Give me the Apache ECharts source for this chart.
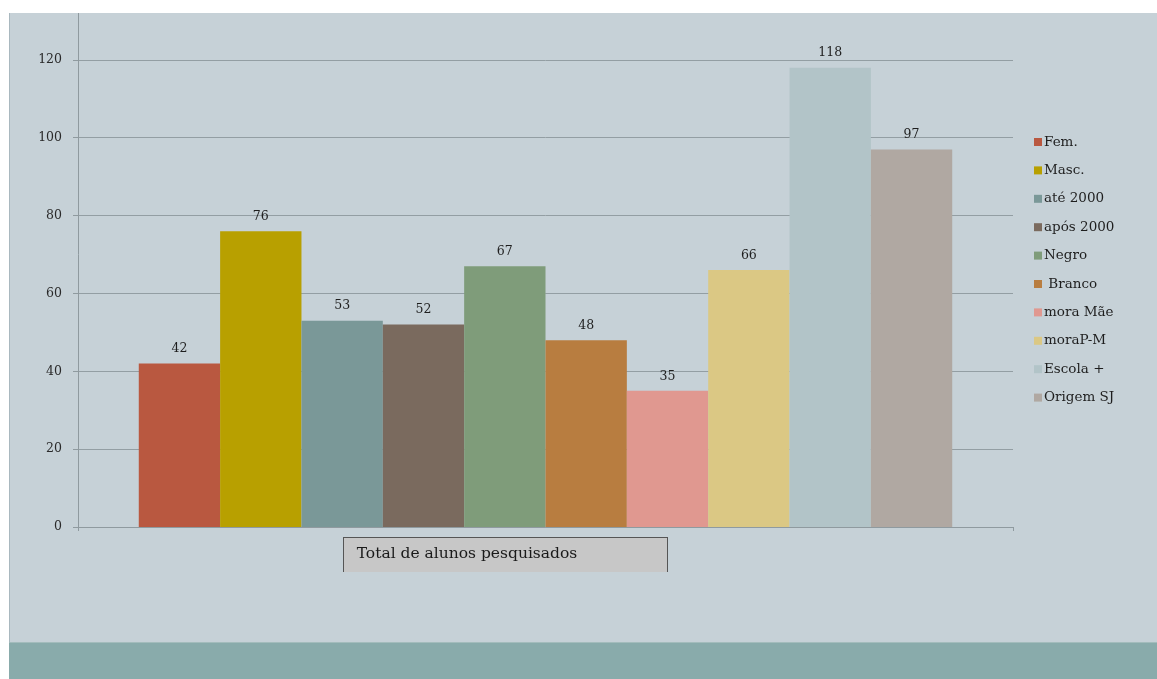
<!DOCTYPE html>
<html>
<head>
<meta charset="utf-8">
<script src="https://cdn.jsdelivr.net/npm/echarts@6/dist/echarts.min.js"></script>
<style>
html,body{margin:0;padding:0;background:#ffffff;overflow:hidden;}
#panel{position:absolute;left:9px;top:13px;width:1148px;height:666px;background:#c6d1d7;border-left:1px solid #a9b8bf;box-sizing:border-box;}
#band{position:absolute;left:9px;top:642px;width:1148px;height:37px;background:#89abab;border-top:1px solid #a3bcbc;box-sizing:border-box;}
#labelbox{position:absolute;left:343px;top:537px;width:325px;height:35px;background:#c7c7c7;border:1.5px solid #555;border-bottom:none;box-sizing:border-box;}
#chart{position:absolute;left:0;top:-18px;width:1157px;height:697px;}
#topstrip{position:absolute;left:0;top:0;width:1157px;height:13px;background:#ffffff;z-index:5;}
</style>
</head>
<body>
<div id="panel"></div>
<div id="band"></div>
<div id="labelbox"></div>
<div id="chart"></div>
<div id="topstrip"></div>
<script>
const categories = ['Total de alunos pesquisados'];
const seriesNames = ['Fem.', 'Masc.', 'até 2000', 'após 2000', 'Negro', ' Branco', 'mora Mãe', 'moraP-M', 'Escola +', 'Origem SJ'];
const seriesValues = [42, 76, 53, 52, 67, 48, 35, 66, 118, 97];
const seriesColors = ['#b95840', '#b8a000', '#7a9898', '#7a6a5e', '#7f9c7a', '#b87d40', '#e09890', '#dbc884', '#b2c4c8', '#b0a8a2'];
const yTicks = [0, 20, 40, 60, 80, 100, 120, 140];

const serif = 'DejaVu Serif';
const chart = echarts.init(document.getElementById('chart'));
chart.setOption({
  backgroundColor: 'transparent',
  animation: false,
  grid: {left: 78, right: 144, top: 0, bottom: 152, containLabel: false, outerBoundsMode: 'none'},
  legend: {
    orient: 'vertical',
    left: 1029,
    top: 148,
    itemWidth: 8,
    itemHeight: 8,
    itemGap: 14.4,
    icon: 'rect',
    textStyle: {fontFamily: serif, fontSize: 13.5, color: '#1e1e1e', padding: [0, 0, 0, -3]},
    data: seriesNames
  },
  xAxis: {
    type: 'category',
    data: categories,
    axisLine: {lineStyle: {color: '#8f9a9f', width: 1}},
    axisTick: {show: true, length: 4, lineStyle: {color: '#8f9a9f'}},
    axisLabel: {
      margin: 10,
      fontFamily: serif,
      fontSize: 15.5,
      color: '#1a1a1a',
      padding: [9, 157, 10, 0]
    }
  },
  yAxis: {
    type: 'value',
    min: yTicks[0],
    max: yTicks[yTicks.length - 1],
    interval: 20,
    axisLine: {show: true, lineStyle: {color: '#8f9a9f'}},
    axisTick: {show: true, length: 5, lineStyle: {color: '#8f9a9f'}},
    splitLine: {lineStyle: {color: '#939ea3', width: 1}},
    axisLabel: {margin: 16, fontFamily: serif, fontSize: 12.5, color: '#2a2a2a'}
  },
  series: seriesNames.map((name, i) => ({
    name: name,
    type: 'bar',
    barGap: '0%',
    barCategoryGap: '13%',
    itemStyle: {color: seriesColors[i]},
    label: {show: true, position: 'top', distance: 8, fontFamily: serif, fontSize: 12.5, color: '#1e1e1e'},
    data: [seriesValues[i]]
  }))
});
</script>
</body>
</html>
